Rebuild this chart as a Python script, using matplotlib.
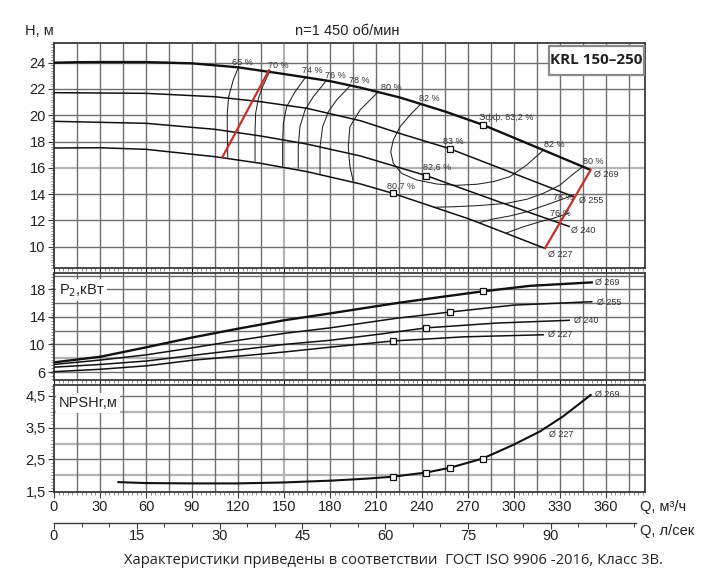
import matplotlib
matplotlib.use("Agg")
import matplotlib.pyplot as plt
from matplotlib import font_manager
import numpy as np
from matplotlib.patches import Rectangle

_names = {f.name for f in font_manager.fontManager.ttflist}
NARROW = ['Liberation Sans Narrow', 'Liberation Sans', 'DejaVu Sans'] if 'Liberation Sans Narrow' in _names \
    else ['Liberation Sans', 'DejaVu Sans']
plt.rcParams['font.family'] = ['Liberation Sans', 'DejaVu Sans']

# ---------------- data ----------------
# Head curves H(Q), Q in m3/h
q269 = [0, 15, 30, 60, 90, 120, 150, 180, 200, 226, 256, 280, 319, 350]
h269 = [24.0, 24.04, 24.05, 24.05, 23.95, 23.65, 23.14, 22.6, 22.1, 21.34, 20.25, 19.26, 17.36, 15.84]
q255 = [0, 60, 105, 135, 165, 200, 226, 258, 297, 339]
h255 = [21.72, 21.67, 21.41, 21.03, 20.53, 19.58, 18.6, 17.46, 15.7, 13.8]
q240 = [0, 60, 105, 135, 165, 200, 243, 287, 336.5]
h240 = [19.54, 19.39, 18.93, 18.42, 17.81, 16.9, 15.4, 13.55, 11.52]
q227 = [0, 30, 60, 105, 135, 165, 200, 221, 271, 320]
h227 = [17.51, 17.53, 17.41, 16.85, 16.34, 15.71, 14.77, 14.06, 12.1, 9.88]

head_curves = [(q269, h269, 1.7), (q255, h255, 1.1), (q240, h240, 1.1), (q227, h227, 1.1)]
diam_labels = ["Ø 269", "Ø 255", "Ø 240", "Ø 227"]

# best-efficiency points (Q) on each diameter
bep_q = [279.6, 258.3, 242.6, 220.9]

# iso-efficiency lines (Q, H)
iso_lines = {
    "65l": ([120.4, 116.9, 113.9, 113.0, 113.0, 113.3], [23.70, 22.68, 21.41, 20.15, 18.63, 16.8]),
    "70l": ([140.9, 136.5, 133.3, 131.5, 131.1, 131.1], [23.39, 22.30, 21.29, 20.15, 18.63, 16.52]),
    "74l": ([164.3, 157.2, 151.7, 149.6, 149.1, 149.1], [22.93, 21.79, 20.65, 19.39, 17.87, 16.16]),
    "76l": ([177.4, 169.1, 163.7, 160.4, 159.3, 159.3], [22.61, 21.41, 20.40, 19.13, 17.61, 15.97]),
    "78l": ([193.0, 184.3, 178.9, 175.2, 173.5, 173.5], [22.23, 21.16, 20.27, 19.13, 17.61, 15.55]),
    "80l": ([211.5, 199.6, 193.0, 191.9, 193.0, 195.2], [21.79, 20.40, 19.13, 17.61, 16.09, 14.95]),
    "82": ([239.3, 232.2, 225.7, 221.3, 219.6, 221.3, 226.7, 236.5, 249.6, 262.6, 275.7, 286.5, 297.4, 308.3, 319.1],
           [20.87, 20.02, 19.13, 18.12, 17.23, 16.35, 15.58, 15.08, 14.77, 14.67, 14.75, 14.95, 15.33, 16.22, 17.34]),
    "80r": ([344.8, 336.5, 330.0, 319.1, 308.3, 295.2, 275.7, 260.4, 247.8],
            [16.10, 15.33, 14.69, 14.06, 13.61, 13.30, 13.12, 13.04, 13.0]),
    "78r": ([338.7, 330.0, 319.1, 308.3, 297.4, 286.5, 277.8],
            [13.93, 13.55, 13.10, 12.66, 12.34, 12.11, 11.85]),
    "76r": ([335.4, 325.6, 317.0, 306.1, 295.2], [12.54, 12.16, 11.90, 11.52, 11.05]),
}

# red limit lines (min / max flow)
red_left_q = [110.0, 140.2]
red_left_h = [16.85, 23.43]
red_right_q = [320.2, 350.0]
red_right_h = [9.88, 15.84]

# efficiency labels: (text, Q, H)
eff_labels = [
    ("65 %", 116.1, 24.0), ("70 %", 139.6, 23.77), ("74 %", 161.7, 23.39),
    ("76 %", 176.7, 22.99), ("78 %", 192.4, 22.68), ("80 %", 213.3, 22.10),
    ("82 %", 238.0, 21.29), ("Эфф. 83,2 %", 277.2, 19.85), ("83 %", 253.7, 17.99),
    ("82 %", 319.6, 17.81), ("82,6 %", 240.7, 16.01), ("80,7 %", 217.2, 14.62),
    ("80 %", 345.0, 16.50), ("78 %", 325.4, 13.76), ("76 %", 323.5, 12.49),
]
head_diam_pos = [(352.2, 15.48), (342.4, 13.48), (337.2, 11.27), (322.2, 9.37)]

# Power P2(Q), kW
pq269 = [0, 30.4, 60.5, 90, 120.4, 150, 180, 223.5, 249.6, 279.6, 310.4, 350.7]
p269 = [7.4, 8.22, 9.6, 11.0, 12.3, 13.5, 14.5, 16.0, 16.8, 17.7, 18.5, 19.0]
pq255 = [0, 30.4, 60.5, 90, 120.4, 150, 180, 223.5, 258.3, 299.6, 350.7]
p255 = [7.1, 7.74, 8.5, 9.5, 10.6, 11.6, 12.4, 13.8, 14.7, 15.7, 16.2]
pq240 = [0, 30.4, 60.5, 90, 120.4, 150, 180, 212.6, 242.6, 288.7, 336.0]
p240 = [6.7, 7.1, 7.6, 8.4, 9.2, 10.0, 10.6, 11.5, 12.4, 13.1, 13.5]
pq227 = [0, 30.4, 60.5, 90, 120.4, 150, 180, 220.9, 267.0, 319.0]
p227 = [6.05, 6.4, 6.9, 7.7, 8.3, 8.9, 9.6, 10.5, 11.1, 11.4]
power_curves = [(pq269, p269, 1.7), (pq255, p255, 1.1), (pq240, p240, 1.1), (pq227, p227, 1.1)]
power_label_pos = [(352.8, 18.96), (353.9, 16.11), (339.3, 13.4), (322.4, 11.37)]

# NPSHr(Q), m
nq = [42, 60, 90, 120, 150, 182, 204, 221, 242.6, 258.3, 279.6, 299.6, 317, 332, 350]
npsh = [1.79, 1.76, 1.75, 1.75, 1.78, 1.84, 1.90, 1.96, 2.09, 2.24, 2.53, 2.96, 3.38, 3.85, 4.52]
npsh_marker_q = [220.9, 242.6, 258.3, 279.6]

q_ticks = list(range(0, 361, 30))
ls_ticks = list(range(0, 91, 15))

# ---------------- figure ----------------
W, H = 725, 574
fig = plt.figure(figsize=(W / 100, H / 100), dpi=100)

def fax(l, t, r, b):
    return fig.add_axes([l / W, 1 - b / H, (r - l) / W, (b - t) / H])

ax1 = fax(54, 43, 645, 268)
ax2 = fax(54, 273.3, 645, 380)
ax3 = fax(54, 385, 645, 491.7)

XMAX = 591 * 30 / 46
GRID_C = '#6e6e6e'
LIGHT_C = '#b4b4b4'
SPINE_C = '#3a3a3a'
TXT_C = '#222222'

grid_q = [q for q in range(15, 376, 15) if q != 150]

def draw_grid(ax, ys_dark, ys_light):
    ax.vlines(grid_q, 0, 1, transform=ax.get_xaxis_transform(), colors=GRID_C,
              linewidths=1.0, zorder=1.5)
    ax.vlines([150], 0, 1, transform=ax.get_xaxis_transform(), colors=LIGHT_C,
              linewidths=1.6, zorder=1.2)
    ax.hlines(ys_dark, 0, 1, transform=ax.get_yaxis_transform(), colors=GRID_C,
              linewidths=1.0, zorder=1.5)
    ax.hlines(ys_light, 0, 1, transform=ax.get_yaxis_transform(), colors=LIGHT_C,
              linewidths=1.6, zorder=1.2)

def style_ticklabels(ax):
    for lab in ax.get_xticklabels() + ax.get_yticklabels():
        lab.set_family(NARROW)

for ax in (ax1, ax2, ax3):
    ax.set_xlim(0, XMAX)
    for s in ax.spines.values():
        s.set_color(SPINE_C)
        s.set_linewidth(1.3)
    ax.tick_params(axis='y', which='major', length=4, width=0.8, color=SPINE_C,
                   labelsize=10.5, pad=2, labelcolor=TXT_C)
    ax.tick_params(axis='y', which='minor', length=2.5, width=0.6, color='#777')
    ax.set_xticks(range(0, 385, 3), minor=True)
    ax.tick_params(axis='x', which='minor', length=2.5, width=0.6, color='#777')

# ---- top: head ----
ax1.set_ylim(8.38, 25.5)
draw_grid(ax1, [10, 12, 14, 18, 20, 22, 24], [16])
ax1.set_yticks(range(10, 25, 2))
ax1.set_yticks(np.arange(8.4, 25.5, 0.2), minor=True)
ax1.set_xticks(q_ticks)
ax1.tick_params(axis='x', which='major', length=3, labelbottom=False)

for (qq, hh, lw) in head_curves:
    ax1.plot(qq, hh, color='#111', lw=lw, zorder=4, solid_capstyle='butt')
for key, (qq, hh) in iso_lines.items():
    ax1.plot(qq, hh, color='#222', lw=0.75, zorder=3)
ax1.plot(red_left_q, red_left_h, color='#c8302c', lw=1.6, zorder=5)
ax1.plot(red_right_q, red_right_h, color='#c8302c', lw=1.6, zorder=5)
for (qq, hh, lw), bq in zip(head_curves, bep_q):
    ax1.plot([bq], [np.interp(bq, qq, hh)], marker='s', ms=4.2, mfc='white', mec='#111',
             mew=0.9, zorder=6, ls='none')
for t, x, y in eff_labels:
    ax1.text(x, y, t, fontsize=6.5, color='#333', ha='left', va='center', zorder=7)
for t, (x, y) in zip(diam_labels, head_diam_pos):
    ax1.text(x, y, t, fontsize=6.5, color='#333', ha='left', va='center', zorder=7)

box = Rectangle(((549 - 54) / 591, 1 - (75 - 43) / 225), (644 - 549) / 591, (75 - 46) / 225,
                transform=ax1.transAxes, facecolor='white', edgecolor='#8a8a8a', lw=1.6, zorder=8)
ax1.add_patch(box)
ax1.text(((549 + 644) / 2 - 54) / 591, 1 - ((46 + 75) / 2 - 43) / 225, "KRL 150–250",
         transform=ax1.transAxes, ha='center', va='center', fontsize=11, fontweight='bold',
         family=['Open Sans', 'DejaVu Sans'], color='#222', zorder=9)

# ---- middle: power ----
ax2.set_ylim(4.84, 20.32)
draw_grid(ax2, [6, 10, 12, 14, 16, 18, 20], [8])
ax2.set_yticks([6, 10, 14, 18])
ax2.set_yticks(np.arange(5.0, 20.4, 0.4), minor=True)
ax2.set_xticks(q_ticks)
ax2.tick_params(axis='x', which='major', length=3, labelbottom=False)
for (qq, pp, lw) in power_curves:
    ax2.plot(qq, pp, color='#111', lw=lw, zorder=4)
for (qq, pp, lw), bq in zip(power_curves, bep_q):
    ax2.plot([bq], [np.interp(bq, qq, pp)], marker='s', ms=4.2, mfc='white', mec='#111',
             mew=0.9, zorder=6, ls='none')
for t, (x, y) in zip(diam_labels, power_label_pos):
    ax2.text(x, y, t, fontsize=6.5, color='#333', ha='left', va='center', zorder=7)
ax2.text(0.008, 0.84, r"P$_{2}$,кВт", transform=ax2.transAxes, fontsize=10.5, color=TXT_C,
         ha='left', va='center', zorder=8, family=NARROW,
         bbox=dict(facecolor='white', edgecolor='none', pad=2))

# ---- bottom: NPSH ----
ax3.set_ylim(1.49, 4.834)
draw_grid(ax3, [2.5, 3.5, 4.5], [2.0, 3.0, 4.0])
ax3.set_yticks([1.5, 2.5, 3.5, 4.5])
ax3.set_yticklabels(["1,5", "2,5", "3,5", "4,5"])
ax3.set_yticks(np.arange(1.5, 4.83, 0.1), minor=True)
ax3.set_xticks(q_ticks)
ax3.set_xticklabels([str(v) for v in q_ticks])
ax3.tick_params(axis='x', which='major', length=4, width=0.8, color=SPINE_C,
                labelsize=10.5, pad=2, labelcolor=TXT_C)
ax3.plot(nq, npsh, color='#111', lw=1.5, zorder=4)
for bq in npsh_marker_q:
    ax3.plot([bq], [np.interp(bq, nq, npsh)], marker='s', ms=4.2, mfc='white', mec='#111',
             mew=0.9, zorder=6, ls='none')
ax3.text(352.8, 4.54, "Ø 269", fontsize=6.5, color='#333', ha='left', va='center', zorder=7)
ax3.text(323.0, 3.29, "Ø 227", fontsize=6.5, color='#333', ha='left', va='center', zorder=7)
ax3.text(0.008, 0.83, "NPSHr,м", transform=ax3.transAxes, fontsize=10.5, color=TXT_C,
         ha='left', va='center', zorder=8, family=NARROW,
         bbox=dict(facecolor='white', edgecolor='none', pad=2))

# ---- secondary l/s axis ----
ax4 = fax(54, 521.5, 54 + 105.4 * 3.6 * 46 / 30, 522.5)
ax4.set_xlim(0, 105.4)
ax4.set_yticks([])
for k in ('top', 'left', 'right'):
    ax4.spines[k].set_visible(False)
ax4.spines['bottom'].set_color(SPINE_C)
ax4.spines['bottom'].set_linewidth(1.0)
ax4.patch.set_alpha(0)
ax4.set_xticks(ls_ticks)
ax4.set_xticklabels([str(v) for v in ls_ticks])
ax4.set_xticks(range(0, 106, 5), minor=True)
ax4.tick_params(axis='x', which='major', length=4.5, width=0.8, color=SPINE_C,
                labelsize=10.5, pad=0.5, labelcolor=TXT_C)
ax4.tick_params(axis='x', which='minor', length=3, width=0.7, color=SPINE_C)

for ax in (ax1, ax2, ax3, ax4):
    style_ticklabels(ax)

# ---- texts ----
fig.text(25 / W, 1 - 31 / H, "H, м", fontsize=10.5, color=TXT_C, ha='left', va='center')
fig.text(347 / W, 1 - 31 / H, "n=1 450 об/мин", fontsize=10.5, color=TXT_C, ha='center', va='center')
fig.text(640 / W, 1 - 507 / H, "Q, м³/ч", fontsize=10.5, color=TXT_C, ha='left', va='center', family=NARROW)
fig.text(640 / W, 1 - 531 / H, "Q, л/сек", fontsize=10.5, color=TXT_C, ha='left', va='center', family=NARROW)
fig.text(393 / W, 1 - 560 / H,
         "Характеристики приведены в соответствии  ГОСТ ISO 9906 -2016, Класс 3B.",
         fontsize=10.6, color=TXT_C, ha='center', va='center', family=['Open Sans', 'DejaVu Sans'])

fig.savefig("out.png", dpi=100)
